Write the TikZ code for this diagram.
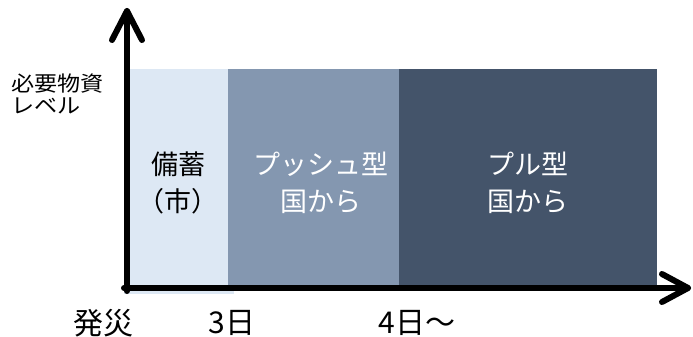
\documentclass[tikz,border=0pt]{standalone}
\usepackage{fontspec}
\setmainfont{Noto Sans CJK JP}
\begin{document}
\begin{tikzpicture}[x=1pt,y=-1pt,
  lab/.style={font=\fontsize{27}{37}\selectfont, align=center, inner sep=0},
  tick/.style={font=\fontsize{30}{30}\selectfont, inner sep=0},
  small/.style={font=\fontsize{21}{22}\selectfont, align=left, inner sep=0, anchor=west},
  axis/.style={line width=6pt, line cap=round, line join=round}]
\useasboundingbox (0,0) rectangle (693,337);
\definecolor{cLight}{HTML}{DDE8F4}
\definecolor{cMid}{HTML}{8497B0}
\definecolor{cDark}{HTML}{44546A}
\fill[cLight] (124,69) rectangle (234,294);
\fill[cMid] (228,69) rectangle (399,285);
\fill[cDark] (399,69) rectangle (657,285);
\coordinate (ytip) at (127,11);
\coordinate (xtip) at (688,288);
\draw[axis] (127,291) -- (ytip);
\draw[axis] (112,40) -- (ytip) -- (142,40);
\draw[axis] (124,288) -- (xtip);
\draw[axis] (662,274) -- (xtip) -- (662,302);
\node[small] (lv) at (11,94) {\scalebox{1.1}[1]{必要物資}\\\scalebox{1.1}[1]{レベル}};
\node[lab] (a) at (178,183) {備蓄\\（市）};
\node[lab,text=white] (b) at (321,183) {プッシュ型\\国から};
\node[lab,text=white] (c) at (528,183) {プル型\\国から};
\node[tick] (t0) at (103,323) {発災};
\node[tick] (t1) at (232,323) {3日};
\node[tick] (t2) at (417,323) {4日～};
\end{tikzpicture}
\end{document}
